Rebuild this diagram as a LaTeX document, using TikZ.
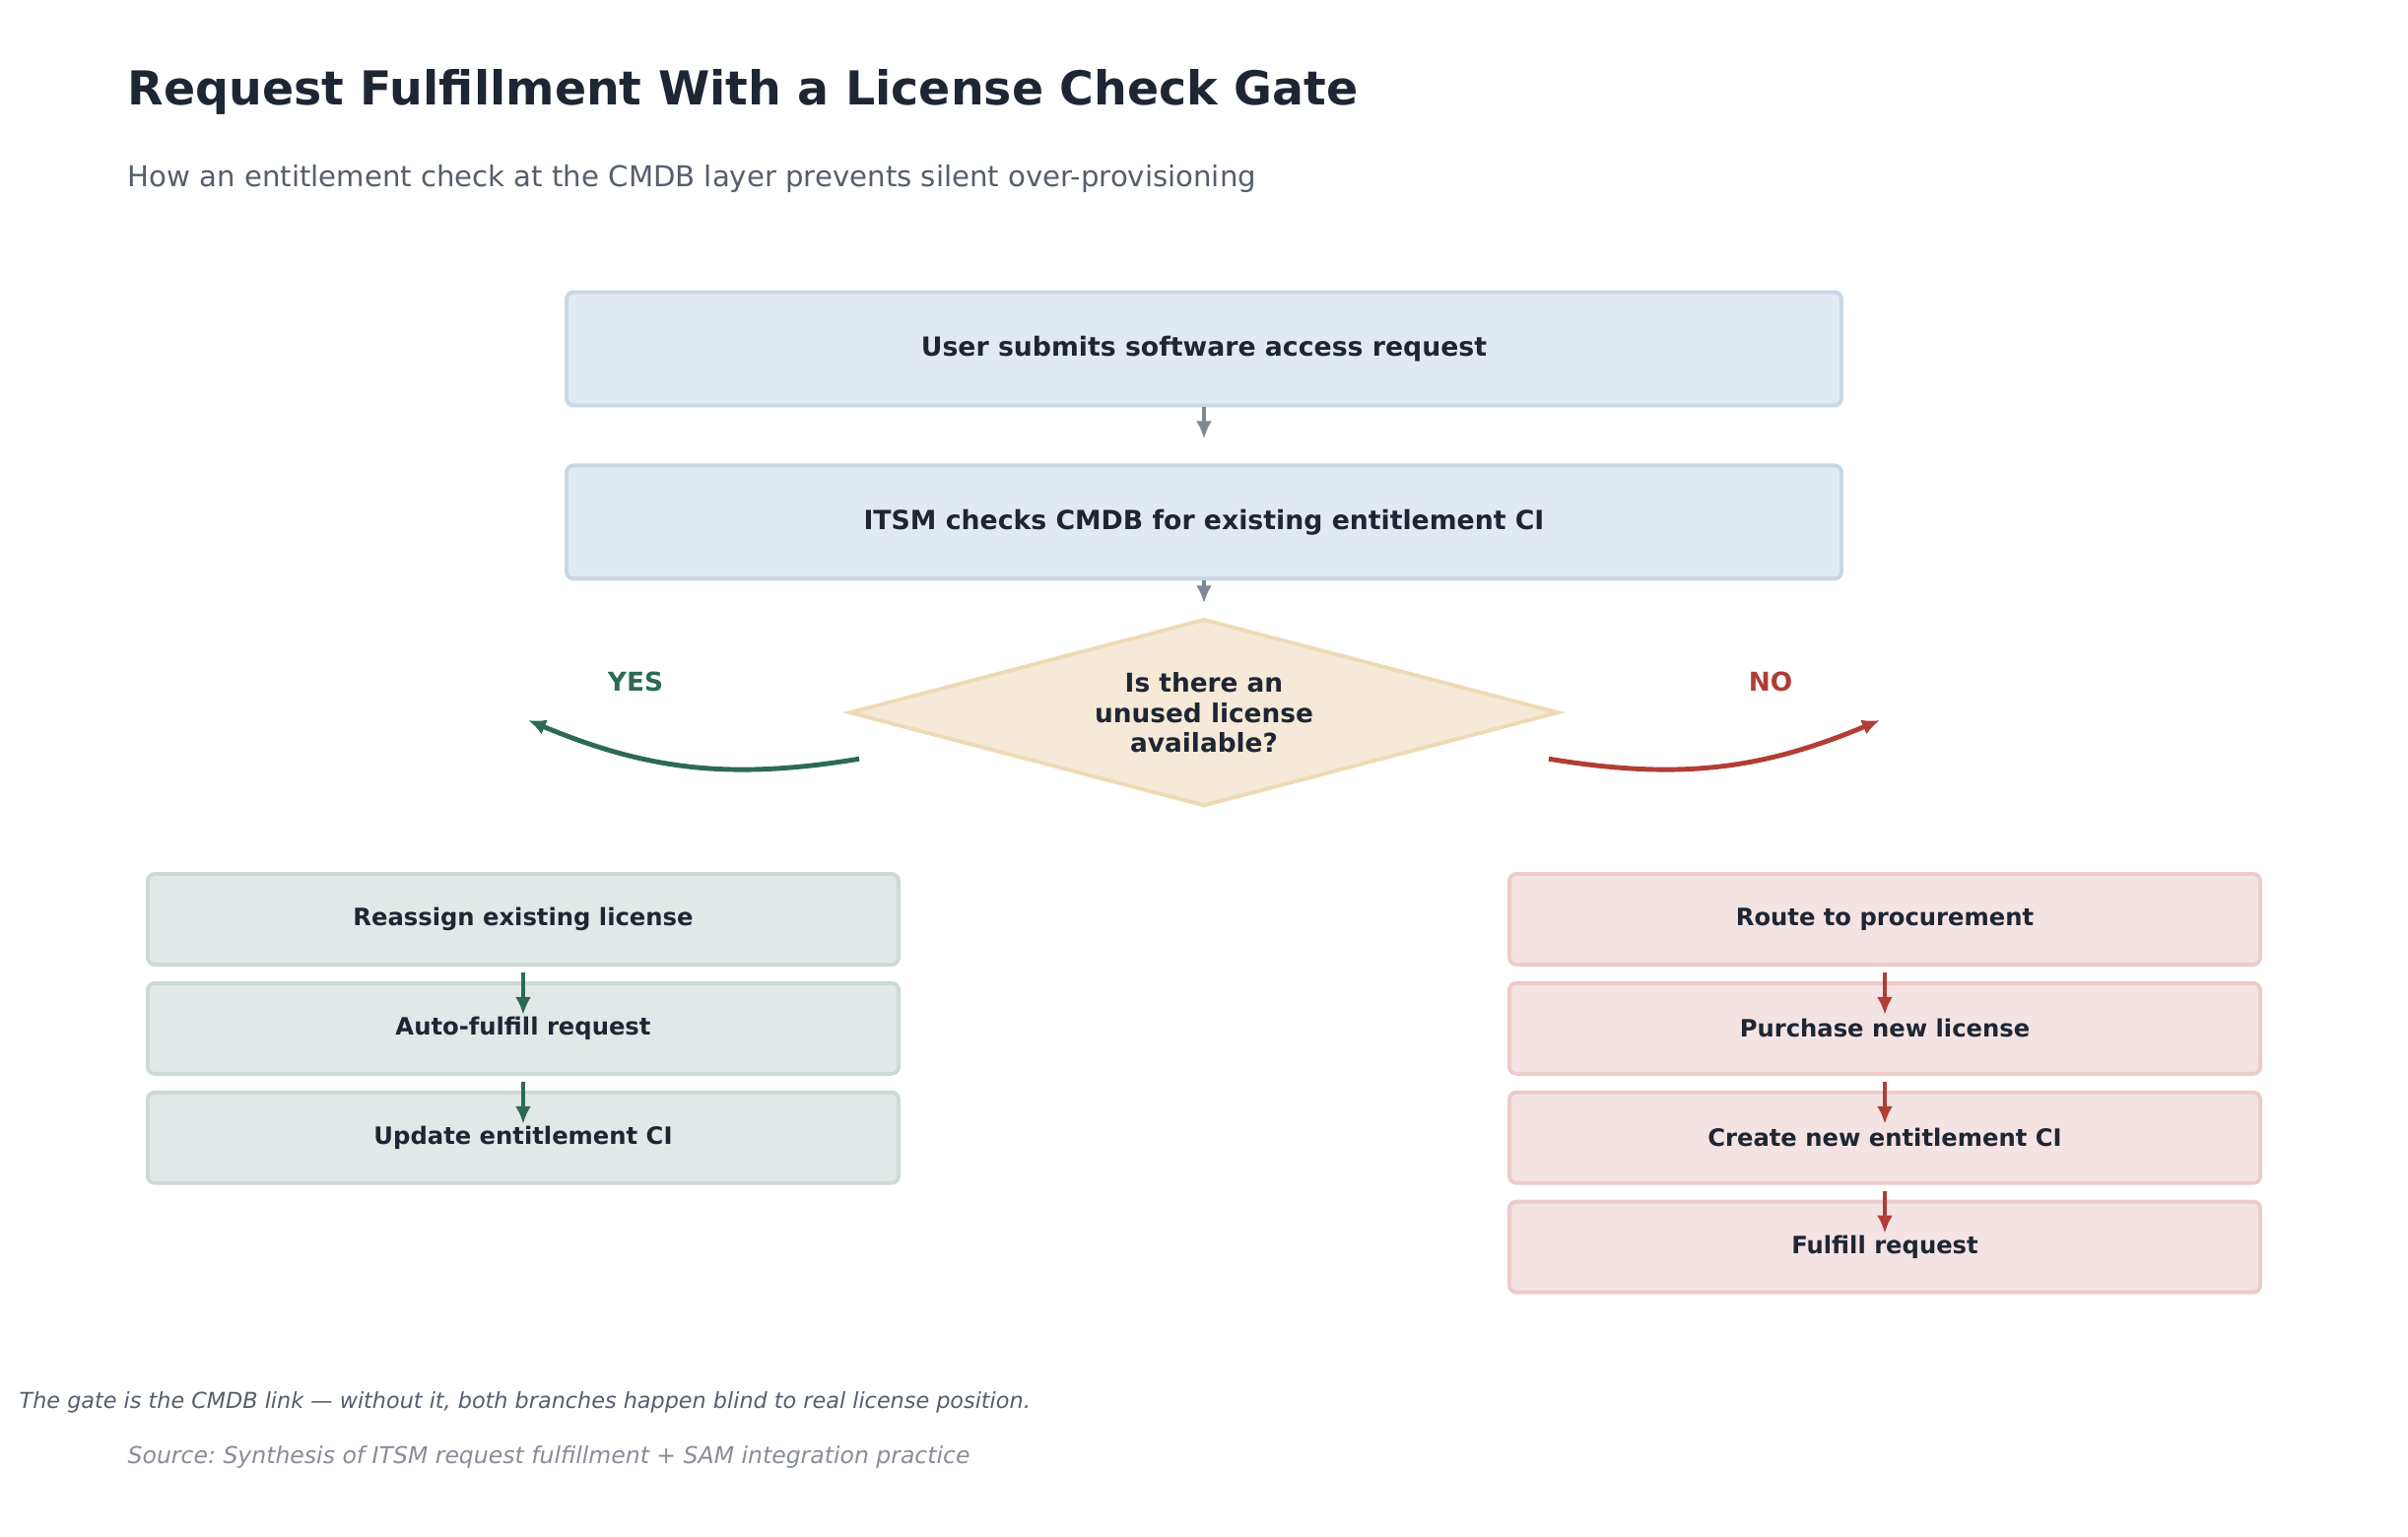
\documentclass[tikz,border=0pt]{standalone}
\usepackage{fontspec}
\setmainfont{DejaVu Sans}
\usepackage{xcolor}
\usepackage{tikz}
\usetikzlibrary{arrows.meta, positioning, shapes.geometric, calc}
\frenchspacing
\definecolor{inkdark}{HTML}{1F2633}
\definecolor{subgray}{HTML}{555E6B}
\definecolor{srcgray}{HTML}{878D99}
\definecolor{stepbg}{HTML}{E1E9F2}
\definecolor{stepbd}{HTML}{C9D7E3}
\definecolor{gatebg}{HTML}{F5E9D8}
\definecolor{gatebd}{HTML}{EFD9B5}
\definecolor{yesbg}{HTML}{E1E9E8}
\definecolor{yesbd}{HTML}{CBDAD6}
\definecolor{yesink}{HTML}{2D6A56}
\definecolor{nobg}{HTML}{F4E3E3}
\definecolor{nobd}{HTML}{ECCBCB}
\definecolor{noink}{HTML}{B13D35}
\definecolor{flowgray}{HTML}{7F8896}
\tikzset{
  topbox/.style={draw=stepbd, fill=stepbg, rounded corners=2pt, line width=1.1pt,
    minimum width=12.94cm, minimum height=1.15cm, inner sep=0pt, font=\fontsize{7.6}{9}\selectfont\bfseries, text=inkdark},
  gatebox/.style={diamond, aspect=3.8, draw=gatebd, fill=gatebg, line width=1.1pt, inner sep=0pt,
    minimum width=7.2cm, minimum height=1.9cm, align=center, font=\fontsize{7.5}{8.6}\selectfont\bfseries, text=inkdark},
  yesbox/.style={draw=yesbd, fill=yesbg, rounded corners=2pt, line width=1.1pt,
    minimum width=7.62cm, minimum height=0.92cm, inner sep=0pt, font=\fontsize{6.9}{8}\selectfont\bfseries, text=inkdark},
  nobox/.style={yesbox, draw=nobd, fill=nobg},
  flow/.style={-{Latex[length=1.8mm, width=1.6mm]}, draw=flowgray, line width=1.1pt},
  yesflow/.style={flow, draw=yesink},
  noflow/.style={flow, draw=noink},
  bendflow/.style={line width=1.4pt},
  branch/.style={font=\fontsize{7.5}{9}\selectfont\bfseries}
}
\begin{document}
\begin{tikzpicture}[node distance=0.15cm]
\useasboundingbox (0,0) rectangle (24.44,-15.6);
\node[anchor=west, inner sep=0pt, font=\fontsize{13.5}{16}\selectfont\bfseries, text=inkdark] (title) at (1.29,-0.93) {Request Fulfillment With a License Check Gate};
\node[anchor=west, inner sep=0pt, font=\fontsize{8.3}{10}\selectfont, text=subgray] (subtitle) at (1.29,-1.81) {How an entitlement check at the CMDB layer prevents silent over-provisioning};
\node[topbox] (user) at (12.22,-3.54) {User submits software access request};
\node[topbox, below=0.57cm of user] (itsm) {ITSM checks CMDB for existing entitlement CI};
\node[gatebox, below=0.37cm of itsm] (gate) {Is there an\\unused license\\available?};
\node[branch, text=yesink] (yes) at (6.45,-6.92) {YES};
\node[branch, text=noink] (no) at (17.97,-6.92) {NO};
\node[yesbox] (reassign) at (5.31,-9.33) {Reassign existing license};
\node[yesbox, below=of reassign] (autof) {Auto-fulfill request};
\node[yesbox, below=of autof] (update) {Update entitlement CI};
\node[nobox] (route) at (19.13,-9.33) {Route to procurement};
\node[nobox, below=of route] (purchase) {Purchase new license};
\node[nobox, below=of purchase] (create) {Create new entitlement CI};
\node[nobox, below=of create] (fulfill) {Fulfill request};
\coordinate (yesfrom) at ($(gate.west)+(0.12,-0.47)$);
\coordinate (yesto) at (5.36,-7.31);
\coordinate (nofrom) at ($(gate.east)+(-0.12,-0.47)$);
\coordinate (noto) at (19.08,-7.31);
\draw[flow] (user.south) -- ($(itsm.north)+(0,0.25)$);
\draw[flow] (itsm.south) -- ($(gate.north)+(0,0.14)$);
\draw[yesflow, bendflow] (yesfrom) to[bend left=16] (yesto);
\draw[noflow, bendflow] (nofrom) to[bend right=16] (noto);
\draw[yesflow] ($(reassign.south)+(0,-0.06)$) -- ($(autof.north)+(0,-0.34)$);
\draw[yesflow] ($(autof.south)+(0,-0.06)$) -- ($(update.north)+(0,-0.34)$);
\draw[noflow] ($(route.south)+(0,-0.06)$) -- ($(purchase.north)+(0,-0.34)$);
\draw[noflow] ($(purchase.south)+(0,-0.06)$) -- ($(create.north)+(0,-0.34)$);
\draw[noflow] ($(create.south)+(0,-0.06)$) -- ($(fulfill.north)+(0,-0.34)$);
\node[anchor=west, inner sep=0pt, font=\fontsize{6.35}{8}\selectfont\itshape, text=subgray] (note) at (0.19,-14.23) {The gate is the CMDB link — without it, both branches happen blind to real license position.};
\node[anchor=west, inner sep=0pt, font=\fontsize{6.7}{8}\selectfont\itshape, text=srcgray] (source) at (1.29,-14.79) {Source: Synthesis of ITSM request fulfillment + SAM integration practice};
\end{tikzpicture}
\end{document}
